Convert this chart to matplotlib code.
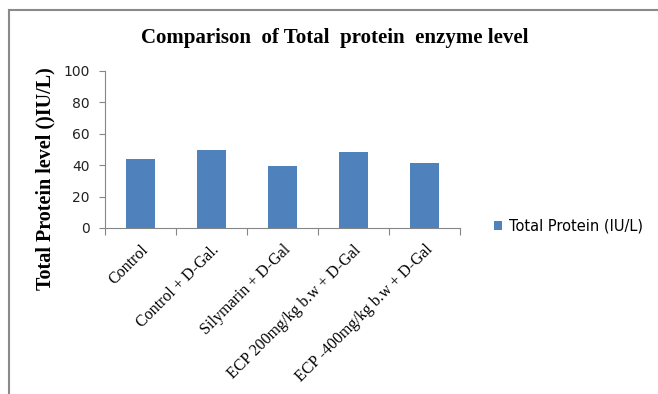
import matplotlib
matplotlib.use("Agg")
import matplotlib.pyplot as plt
from matplotlib.lines import Line2D
import numpy as np

categories = ["Control", "Control + D-Gal.", "Silymarin + D-Gal",
              "ECP 200mg/kg b.w + D-Gal", "ECP -400mg/kg b.w + D-Gal"]
values = [44, 50, 39.5, 48.5, 41.5]
yticks = [0, 20, 40, 60, 80, 100]
series_name = "Total Protein (IU/L)"
title = "Comparison  of Total  protein  enzyme level"
ylabel = "Total Protein level ()IU/L)"

color = "#4F81BD"
fig = plt.figure(figsize=(6.58, 3.94), dpi=100)
ax = fig.add_axes([105/658, 1-228/394, 355/658, 157/394])

x = np.arange(len(categories))
ax.bar(x, values, width=0.41, color=color, label=series_name)
ax.set_xlim(-0.5, len(categories)-0.5)
ax.set_ylim(0, 100)
ax.set_yticks(yticks)
ax.set_yticklabels([str(t) for t in yticks], family="DejaVu Sans", fontsize=10, color="#222222")
ax.set_xticks(np.arange(len(categories)+1)-0.5)
ax.set_xticklabels([])
ax.set_xticks(x, minor=True)
ax.set_xticklabels(categories, minor=True, rotation=45, ha="right",
                   rotation_mode="anchor", family="Liberation Serif", fontsize=11.5)
ax.tick_params(axis="x", which="minor", length=0, pad=10)
ax.tick_params(axis="x", which="major", length=5, color="#868686", direction="out")
ax.tick_params(axis="y", length=4.5, color="#868686", pad=6.5)
for s in ["top", "right"]:
    ax.spines[s].set_visible(False)
for s in ["left", "bottom"]:
    ax.spines[s].set_color("#868686")

fig.text(335/658, 1-38/394, title, ha="center", va="center",
         family="Liberation Serif", fontweight="bold", fontsize=15)
fig.text(45/658, 1-179/394, ylabel, ha="center", va="center", rotation=90,
         family="Liberation Serif", fontweight="bold", fontsize=14.5)

ax.legend(loc="center left", bbox_to_anchor=(481/658, 1-226/394),
          bbox_transform=fig.transFigure, frameon=False,
          prop={"family": "DejaVu Sans", "size": 10.5},
          handlelength=0.55, handleheight=0.55, handletextpad=0.45)

fig.add_artist(Line2D([8.5/658, 8.5/658], [0, 1-9.5/394], color="#8a8a8a", lw=1.5,
                      transform=fig.transFigure))
fig.add_artist(Line2D([8.5/658, 1], [1-9.5/394, 1-9.5/394], color="#8a8a8a", lw=1.5,
                      transform=fig.transFigure))

fig.savefig("out.png", dpi=100)
